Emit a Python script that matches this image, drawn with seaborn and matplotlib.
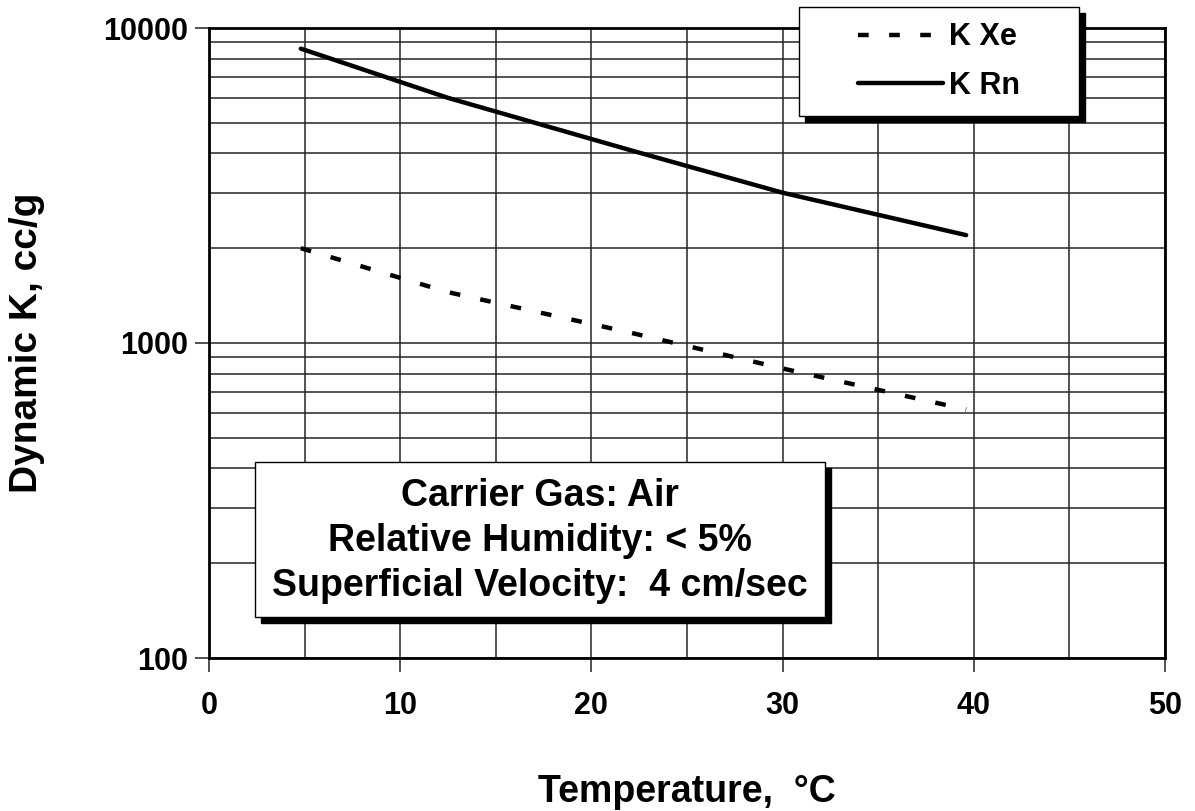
#%%
# Dynamic K vs temperature (Xe / Rn), log scale
import numpy as np
import pandas as pd
import seaborn as sns
import matplotlib.pyplot as plt
from matplotlib.patches import Rectangle
from matplotlib.ticker import FixedLocator, NullFormatter

#%%
# data
temp_xe = [4.8, 12.5, 22.0, 30.0, 39.6]
k_xe = [2000, 1450, 1080, 830, 615]
temp_rn = [4.8, 12.5, 22.0, 30.0, 39.6]
k_rn = [8600, 6000, 4100, 3000, 2200]

x_ticks = [0, 10, 20, 30, 40, 50]
y_ticks = [100, 1000, 10000]
y_tick_labels = ["100", "1000", "10000"]
note_lines = ["Carrier Gas: Air", "Relative Humidity: < 5%", "Superficial Velocity:  4 cm/sec"]

#%%
sns.set_style("white")
plt.rcParams["font.family"] = ["Liberation Sans", "DejaVu Sans"]
plt.rcParams["font.weight"] = "bold"
for k in ("text.color", "axes.labelcolor", "xtick.color", "ytick.color"):
    plt.rcParams[k] = "black"

fig = plt.figure(figsize=(11.95, 8.11), dpi=100)
ax = fig.add_axes([209 / 1195, 1 - 658 / 811, (1165 - 209) / 1195, (658 - 28) / 811])

df_xe = pd.DataFrame({"T": temp_xe, "K": k_xe})
df_rn = pd.DataFrame({"T": temp_rn, "K": k_rn})

sns.lineplot(data=df_xe, x="T", y="K", ax=ax, color="black", lw=3.2,
             linestyle=(0, (2.4, 4.6)), label="K Xe")
sns.lineplot(data=df_rn, x="T", y="K", ax=ax, color="black", lw=3.2,
             linestyle="-", label="K Rn")

ax.set_yscale("log")
ax.set_xlim(0, 50)
ax.set_ylim(100, 10000)

ax.xaxis.set_major_locator(FixedLocator(x_ticks))
ax.xaxis.set_minor_locator(FixedLocator(np.arange(5, 50, 10)))
ax.yaxis.set_major_locator(FixedLocator(y_ticks))
minor_y = [m * d for d in (100, 1000) for m in range(2, 10)]
ax.yaxis.set_minor_locator(FixedLocator(minor_y))
ax.yaxis.set_minor_formatter(NullFormatter())
ax.set_yticklabels(y_tick_labels)

ax.grid(True, which="both", color="0.15", lw=1.1)
ax.tick_params(which="major", direction="out", length=10, width=1.2, color="0.2",
               labelsize=22, labelcolor="black", bottom=True, left=True)
ax.tick_params(axis="x", which="major", pad=14)
ax.tick_params(axis="y", which="major", pad=5)
ax.tick_params(which="minor", length=0)
for lab in ax.get_xticklabels() + ax.get_yticklabels():
    lab.set_fontweight("bold")

for s in ax.spines.values():
    s.set_color("black")
    s.set_linewidth(2)

ax.set_xlabel("Temperature,  °C", fontsize=27, fontweight="bold", labelpad=38)
ax.set_ylabel("Dynamic K, cc/g", fontsize=28, fontweight="bold", labelpad=42)

#%%
# legend box with hard shadow
h, l = ax.get_legend_handles_labels()
ax.get_legend().remove()
lx0, lx1, ly0, ly1 = 799, 1079, 7, 116
fig.add_artist(Rectangle(((lx0 + 6) / 1195, 1 - (ly1 + 6) / 811), (lx1 - lx0) / 1195,
                         (ly1 - ly0) / 811, transform=fig.transFigure,
                         facecolor="black", edgecolor="black", zorder=3))
fig.add_artist(Rectangle((lx0 / 1195, 1 - ly1 / 811), (lx1 - lx0) / 1195,
                         (ly1 - ly0) / 811, transform=fig.transFigure,
                         facecolor="white", edgecolor="black", lw=1, zorder=4))
leg = fig.legend(h, l, loc="center", bbox_to_anchor=((lx0 + lx1) / 2 / 1195, 1 - (ly0 + ly1) / 2 / 811),
                 frameon=False, fontsize=22, handlelength=2.8, handletextpad=0.2,
                 labelspacing=0.6)
leg.set_zorder(5)
for t in leg.get_texts():
    t.set_fontweight("bold")
    t.set_color("black")

#%%
# condition note box
bx0, bx1, by0, by1 = 255, 825, 462, 617
fig.add_artist(Rectangle(((bx0 + 6) / 1195, 1 - (by1 + 6) / 811), (bx1 - bx0) / 1195,
                         (by1 - by0) / 811, transform=fig.transFigure,
                         facecolor="black", edgecolor="black", zorder=3))
fig.add_artist(Rectangle((bx0 / 1195, 1 - by1 / 811), (bx1 - bx0) / 1195,
                         (by1 - by0) / 811, transform=fig.transFigure,
                         facecolor="white", edgecolor="black", lw=1, zorder=4))
fig.text((bx0 + bx1) / 2 / 1195, 1 - 541 / 811, "\n".join(note_lines), ha="center", va="center",
         multialignment="center", fontsize=27, fontweight="bold", linespacing=1.32,
         color="black", zorder=5)

fig.savefig("out.png", dpi=100)
